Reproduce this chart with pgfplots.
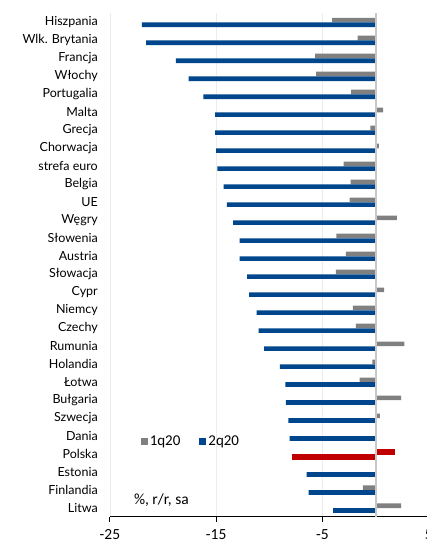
\documentclass[border=0pt]{standalone}
\usepackage{fontspec}
\setmainfont{Lato}
\newfontfamily\carlito{Carlito}
\usepackage{pgfplots}
\pgfplotsset{compat=1.18}
\usetikzlibrary{calc}

\definecolor{ingblue}{RGB}{0,70,140}
\definecolor{inggray}{RGB}{128,128,128}
\definecolor{ingred}{RGB}{192,0,0}
\definecolor{gridgray}{RGB}{236,236,236}
\definecolor{zerogray}{RGB}{200,200,200}

\begin{document}
\begin{tikzpicture}
\begin{axis}[
  name=ax, at={(0,0)}, anchor=south west,
  scale only axis, width=319pt, height=504pt,
  xmin=-25, xmax=5, ymin=-0.48, ymax=27.52,
  axis x line*=bottom, axis y line*=left,
  x axis line style={black, line width=1.4pt, -},
  y axis line style={draw=none},
  xtick={-25,-15,-5,5},
  xticklabels={-25,-15,-5,5},
  xticklabel style={font=\carlito\fontsize{15.5}{17}\selectfont, inner sep=0pt, yshift=-8pt},
  x tick style={black, line width=1pt},
  major tick length=5pt,
  tick align=outside,
  ytick={0,...,27},
  yticklabels={Litwa,Finlandia,Estonia,Polska,Dania,Szwecja,Bułgaria,Łotwa,Holandia,Rumunia,Czechy,Niemcy,Cypr,Słowacja,Austria,Słowenia,Węgry,UE,Belgia,strefa euro,Chorwacja,Grecja,Malta,Portugalia,Włochy,Francja,Wlk. Brytania,Hiszpania},
  yticklabel style={font=\fontsize{12.5}{14}\selectfont, anchor=east, inner sep=0pt, xshift=-7pt},
  y tick style={draw=none},
  xmajorgrids, grid style={gridgray, line width=0.6pt},
  xbar, bar width=4.6pt,
  clip=false,
  legend style={at={(axis cs:-22.4,3.72)}, anchor=west, draw=none, fill=none,
    font=\carlito\fontsize{15}{17}\selectfont, legend columns=2,
    /tikz/every even column/.append style={column sep=17pt}},
  legend image code/.code={\fill[#1] (0pt,-3.5pt) rectangle (7pt,3.5pt);},
]
% 1q20
\addplot[fill=inggray, draw=none, bar shift=2.3pt] coordinates {
  (-4.1,27) (-1.7,26) (-5.7,25) (-5.6,24) (-2.3,23) (0.7,22) (-0.5,21)
  (0.3,20) (-3.0,19) (-2.35,18) (-2.45,17) (2.0,16) (-3.7,15) (-2.8,14)
  (-3.75,13) (0.8,12) (-2.15,11) (-1.85,10) (2.7,9) (-0.3,8) (-1.5,7)
  (2.4,6) (0.4,5) (0,4) (0,2) (-1.2,1) (2.4,0)
};
\addlegendentry{1q20}
% 2q20
\addplot[fill=ingblue, draw=none, bar shift=-2.4pt] coordinates {
  (-22.0,27) (-21.6,26) (-18.8,25) (-17.6,24) (-16.2,23) (-15.1,22) (-15.1,21)
  (-15.0,20) (-14.9,19) (-14.3,18) (-14.0,17) (-13.4,16) (-12.8,15) (-12.8,14)
  (-12.1,13) (-11.9,12) (-11.2,11) (-11.0,10) (-10.5,9) (-9.0,8) (-8.5,7)
  (-8.45,6) (-8.2,5) (-8.1,4) (-6.5,2) (-6.3,1) (-4.0,0)
};
\addlegendentry{2q20}
% Polska
\addplot[fill=ingred, draw=none, bar width=6pt, bar shift=2.1pt, forget plot] coordinates {(1.8,3)};
\addplot[fill=ingred, draw=none, bar width=6pt, bar shift=-2.7pt, forget plot] coordinates {(-7.9,3)};

\draw[zerogray, line width=2pt] (axis cs:0,-0.48) -- (axis cs:0,27.52);
\node[anchor=west, inner sep=0pt, font=\carlito\fontsize{15.5}{17}\selectfont]
  at (axis cs:-22.75,0.43) {\%, r/r, sa};
\end{axis}
\pgfresetboundingbox
\path ($(ax.south west)+(-110pt,-27.3pt)$) rectangle ($(ax.south west)+(317pt,517pt)$);
\end{tikzpicture}
\end{document}
